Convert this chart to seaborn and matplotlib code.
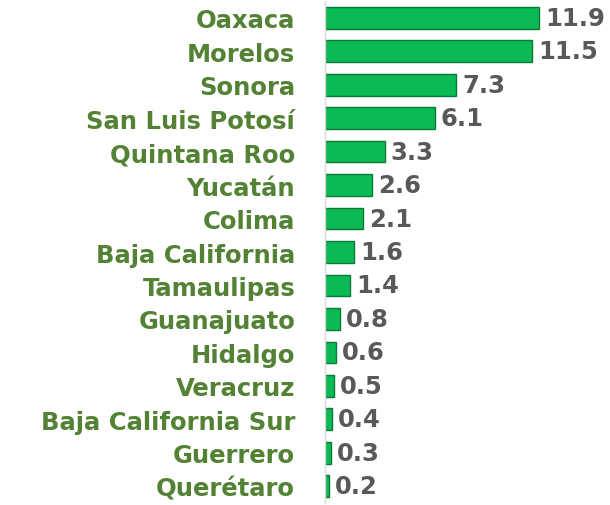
import pandas as pd
import seaborn as sns
import matplotlib.pyplot as plt

estados = ["Oaxaca", "Morelos", "Sonora", "San Luis Potosí", "Quintana Roo",
           "Yucatán", "Colima", "Baja California", "Tamaulipas", "Guanajuato",
           "Hidalgo", "Veracruz", "Baja California Sur", "Guerrero", "Querétaro"]
valores = [11.9, 11.5, 7.3, 6.1, 3.3, 2.6, 2.1, 1.6, 1.4, 0.8, 0.6, 0.5, 0.4, 0.3, 0.2]

df = pd.DataFrame({"estado": estados, "valor": valores})

sns.set_style("white")
plt.rcParams['font.family'] = ['DejaVu Sans']

fig = plt.figure(figsize=(6.1, 5.06), dpi=100)
ax = fig.add_axes([0.533, 0.004, 0.467, 0.992])

sns.barplot(data=df, x="valor", y="estado", color="#0BBA55", saturation=1,
            width=0.65, edgecolor="#0A7A35", linewidth=1, ax=ax)

ax.set_xlim(0, 15.83)
ax.set_xlabel("")
ax.set_ylabel("")
ax.set_xticks([])
ax.tick_params(axis="y", length=0, pad=21.6)
for lbl in ax.get_yticklabels():
    lbl.set_fontsize(17.5)
    lbl.set_fontweight("bold")
    lbl.set_color("#548235")

for s in ["top", "right", "bottom"]:
    ax.spines[s].set_visible(False)
ax.spines["left"].set_color("#D9D9D9")
ax.spines["left"].set_linewidth(1)

for i, v in enumerate(valores):
    ax.text(v + 0.33, i, f"{v}", va="center", ha="left", fontsize=17.5,
            fontweight="bold", color="#595959")

fig.savefig("out.png", dpi=100)
